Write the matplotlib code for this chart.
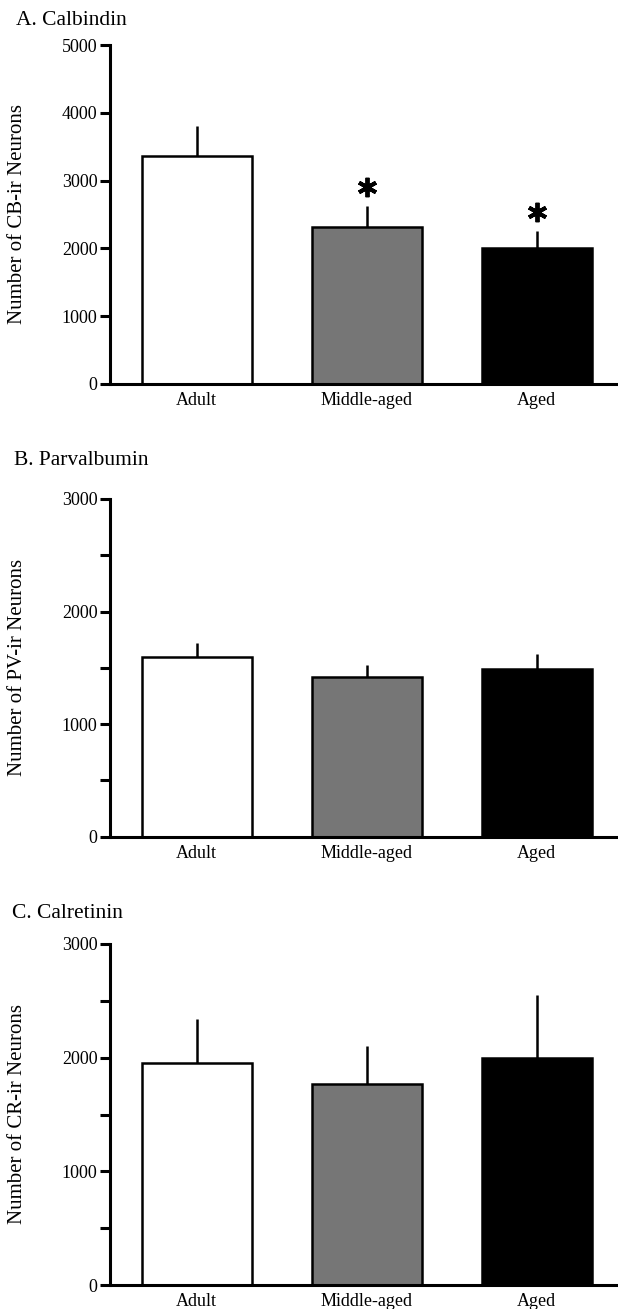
import numpy as np
import matplotlib
matplotlib.use("Agg")
import matplotlib.pyplot as plt
from matplotlib.ticker import MultipleLocator

# Data
groups = ["Adult", "Middle-aged", "Aged"]
colors = ["white", "#767676", "black"]

cb_mean = [3360, 2310, 2005]
cb_err = [450, 310, 250]
cb_sig = [False, True, True]

pv_mean = [1600, 1415, 1490]
pv_err = [120, 110, 135]

cr_mean = [1950, 1765, 1995]
cr_err = [390, 335, 560]

plt.rcParams['font.family'] = ['Liberation Serif', 'DejaVu Serif']

W, H = 618, 1309
fig = plt.figure(figsize=(W / 100, H / 100), dpi=100)


def panel(top_px, bottom_px, title, title_xy, ylabel, ymax, mean, err, minor=None, sig=None):
    ax = fig.add_axes([110 / W, 1 - bottom_px / H, (W - 110) / W, (bottom_px - top_px) / H])
    x = np.arange(len(groups))
    ax.errorbar(x, mean, yerr=[np.zeros(len(mean)), err], fmt='none',
                ecolor='black', elinewidth=1.8, capsize=0, zorder=1)
    ax.bar(x, mean, width=0.647, color=colors, edgecolor='black', linewidth=1.8, zorder=2)
    if sig is not None:
        for xi, m, e, s in zip(x, mean, err, sig):
            if s:
                ax.plot(xi, m + e + ymax * 0.056, marker=(6, 2, 0), markersize=14,
                        mew=2.8, color='black', clip_on=False)
    ax.set_xlim(-0.51, 2.478)
    ax.set_ylim(0, ymax)
    ax.set_yticks(np.arange(0, ymax + 1, 1000))
    if minor:
        ax.yaxis.set_minor_locator(MultipleLocator(minor))
    ax.set_xticks(x, groups)
    ax.tick_params(axis='x', length=0, pad=6, labelsize=13)
    ax.tick_params(axis='y', which='both', direction='out', length=7, width=2.2,
                   labelsize=13, pad=2)
    for s in ['top', 'right']:
        ax.spines[s].set_visible(False)
    for s in ['left', 'bottom']:
        ax.spines[s].set_linewidth(2.2)
    ax.spines['bottom'].set_capstyle('butt')
    ax.set_ylabel(ylabel, fontsize=15)
    ax.yaxis.set_label_coords(-0.163, 0.5)
    fig.text(title_xy[0] / W, 1 - title_xy[1] / H, title, fontsize=15.5, va='baseline')
    return ax


panel(45, 384, "A. Calbindin", (16, 25), "Number of CB-ir Neurons", 5000,
      cb_mean, cb_err, sig=cb_sig)
panel(499, 836.7, "B. Parvalbumin", (14, 465), "Number of PV-ir Neurons", 3000,
      pv_mean, pv_err, minor=500)
panel(944, 1285, "C. Calretinin", (12, 918), "Number of CR-ir Neurons", 3000,
      cr_mean, cr_err, minor=500)

fig.savefig("out.png", dpi=100)
